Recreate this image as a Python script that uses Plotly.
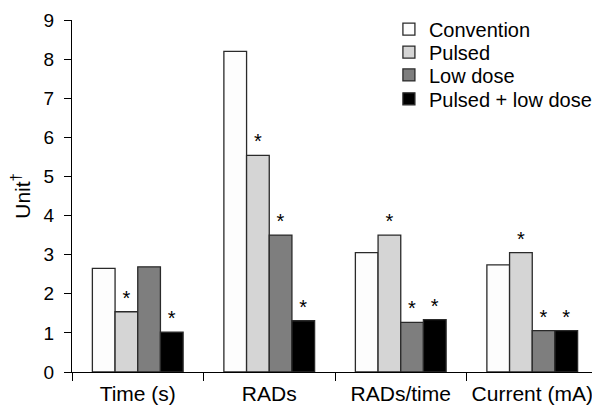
import plotly.graph_objects as go

categories = ["Time (s)", "RADs", "RADs/time", "Current (mA)"]
series_names = ["Convention", "Pulsed", "Low dose", "Pulsed + low dose"]
convention = [2.65, 8.2, 3.05, 2.74]
pulsed = [1.54, 5.54, 3.5, 3.05]
low_dose = [2.69, 3.5, 1.27, 1.06]
pulsed_low = [1.02, 1.31, 1.34, 1.06]
sig_convention = ["", "", "", ""]
sig_pulsed = ["*", "*", "*", "*"]
sig_low_dose = ["", "*", "*", "*"]
sig_pulsed_low = ["*", "*", "*", "*"]
y_ticks = [0, 1, 2, 3, 4, 5, 6, 7, 8, 9]

colors = ["#fdfdfd", "#d5d5d5", "#7e7e7e", "#000000"]
values = [convention, pulsed, low_dose, pulsed_low]
sigs = [sig_convention, sig_pulsed, sig_low_dose, sig_pulsed_low]
legend_ids = ["legend", "legend2", "legend3", "legend4"]
legend_y = [0.974, 0.909, 0.844, 0.776]

FONT = "Liberation Sans, Arial, Helvetica, sans-serif"

fig = go.Figure()
for name, vals, col, sig, lg in zip(series_names, values, colors, sigs, legend_ids):
    fig.add_trace(go.Bar(
        x=categories, y=vals, name=name, legend=lg,
        marker=dict(color=col, line=dict(color="#2a2a2a", width=1.3)),
        text=sig, textposition="outside", cliponaxis=False,
        textfont=dict(size=20, color="black", family=FONT),
    ))

legend_common = dict(x=0.6025, xanchor="left", yanchor="middle",
                     font=dict(size=20, family=FONT, color="black"),
                     bgcolor="rgba(0,0,0,0)", itemwidth=30,
                     borderwidth=0)

layout_legends = {}
for lg, ly in zip(legend_ids, legend_y):
    layout_legends[lg] = dict(legend_common, y=ly)

fig.update_layout(
    width=600, height=409,
    margin=dict(l=64, r=10, t=12, b=45, autoexpand=False),
    paper_bgcolor="white", plot_bgcolor="white",
    barmode="group", bargap=0.31, bargroupgap=0,
    font=dict(family=FONT, size=19, color="black"),
    showlegend=True,
    xaxis=dict(showline=True, linecolor="black", linewidth=1.3,
               ticks="outside", tickson="boundaries", ticklen=8,
               tickcolor="black", tickwidth=1.3, showgrid=False,
               tickfont=dict(size=21), automargin=False,
               ticklabelstandoff=3),
    yaxis=dict(range=[0, 9], tickvals=y_ticks, showline=True,
               linecolor="black", linewidth=1.3, ticks="outside",
               ticklen=7, tickcolor="black", tickwidth=1.3,
               showgrid=False, zeroline=False, tickfont=dict(size=19),
               automargin=False, ticklabelstandoff=6,
               title=dict(text="Unit<sup>†</sup>", font=dict(size=21), standoff=7)),
    **layout_legends,
)

fig.write_html("out.html")
